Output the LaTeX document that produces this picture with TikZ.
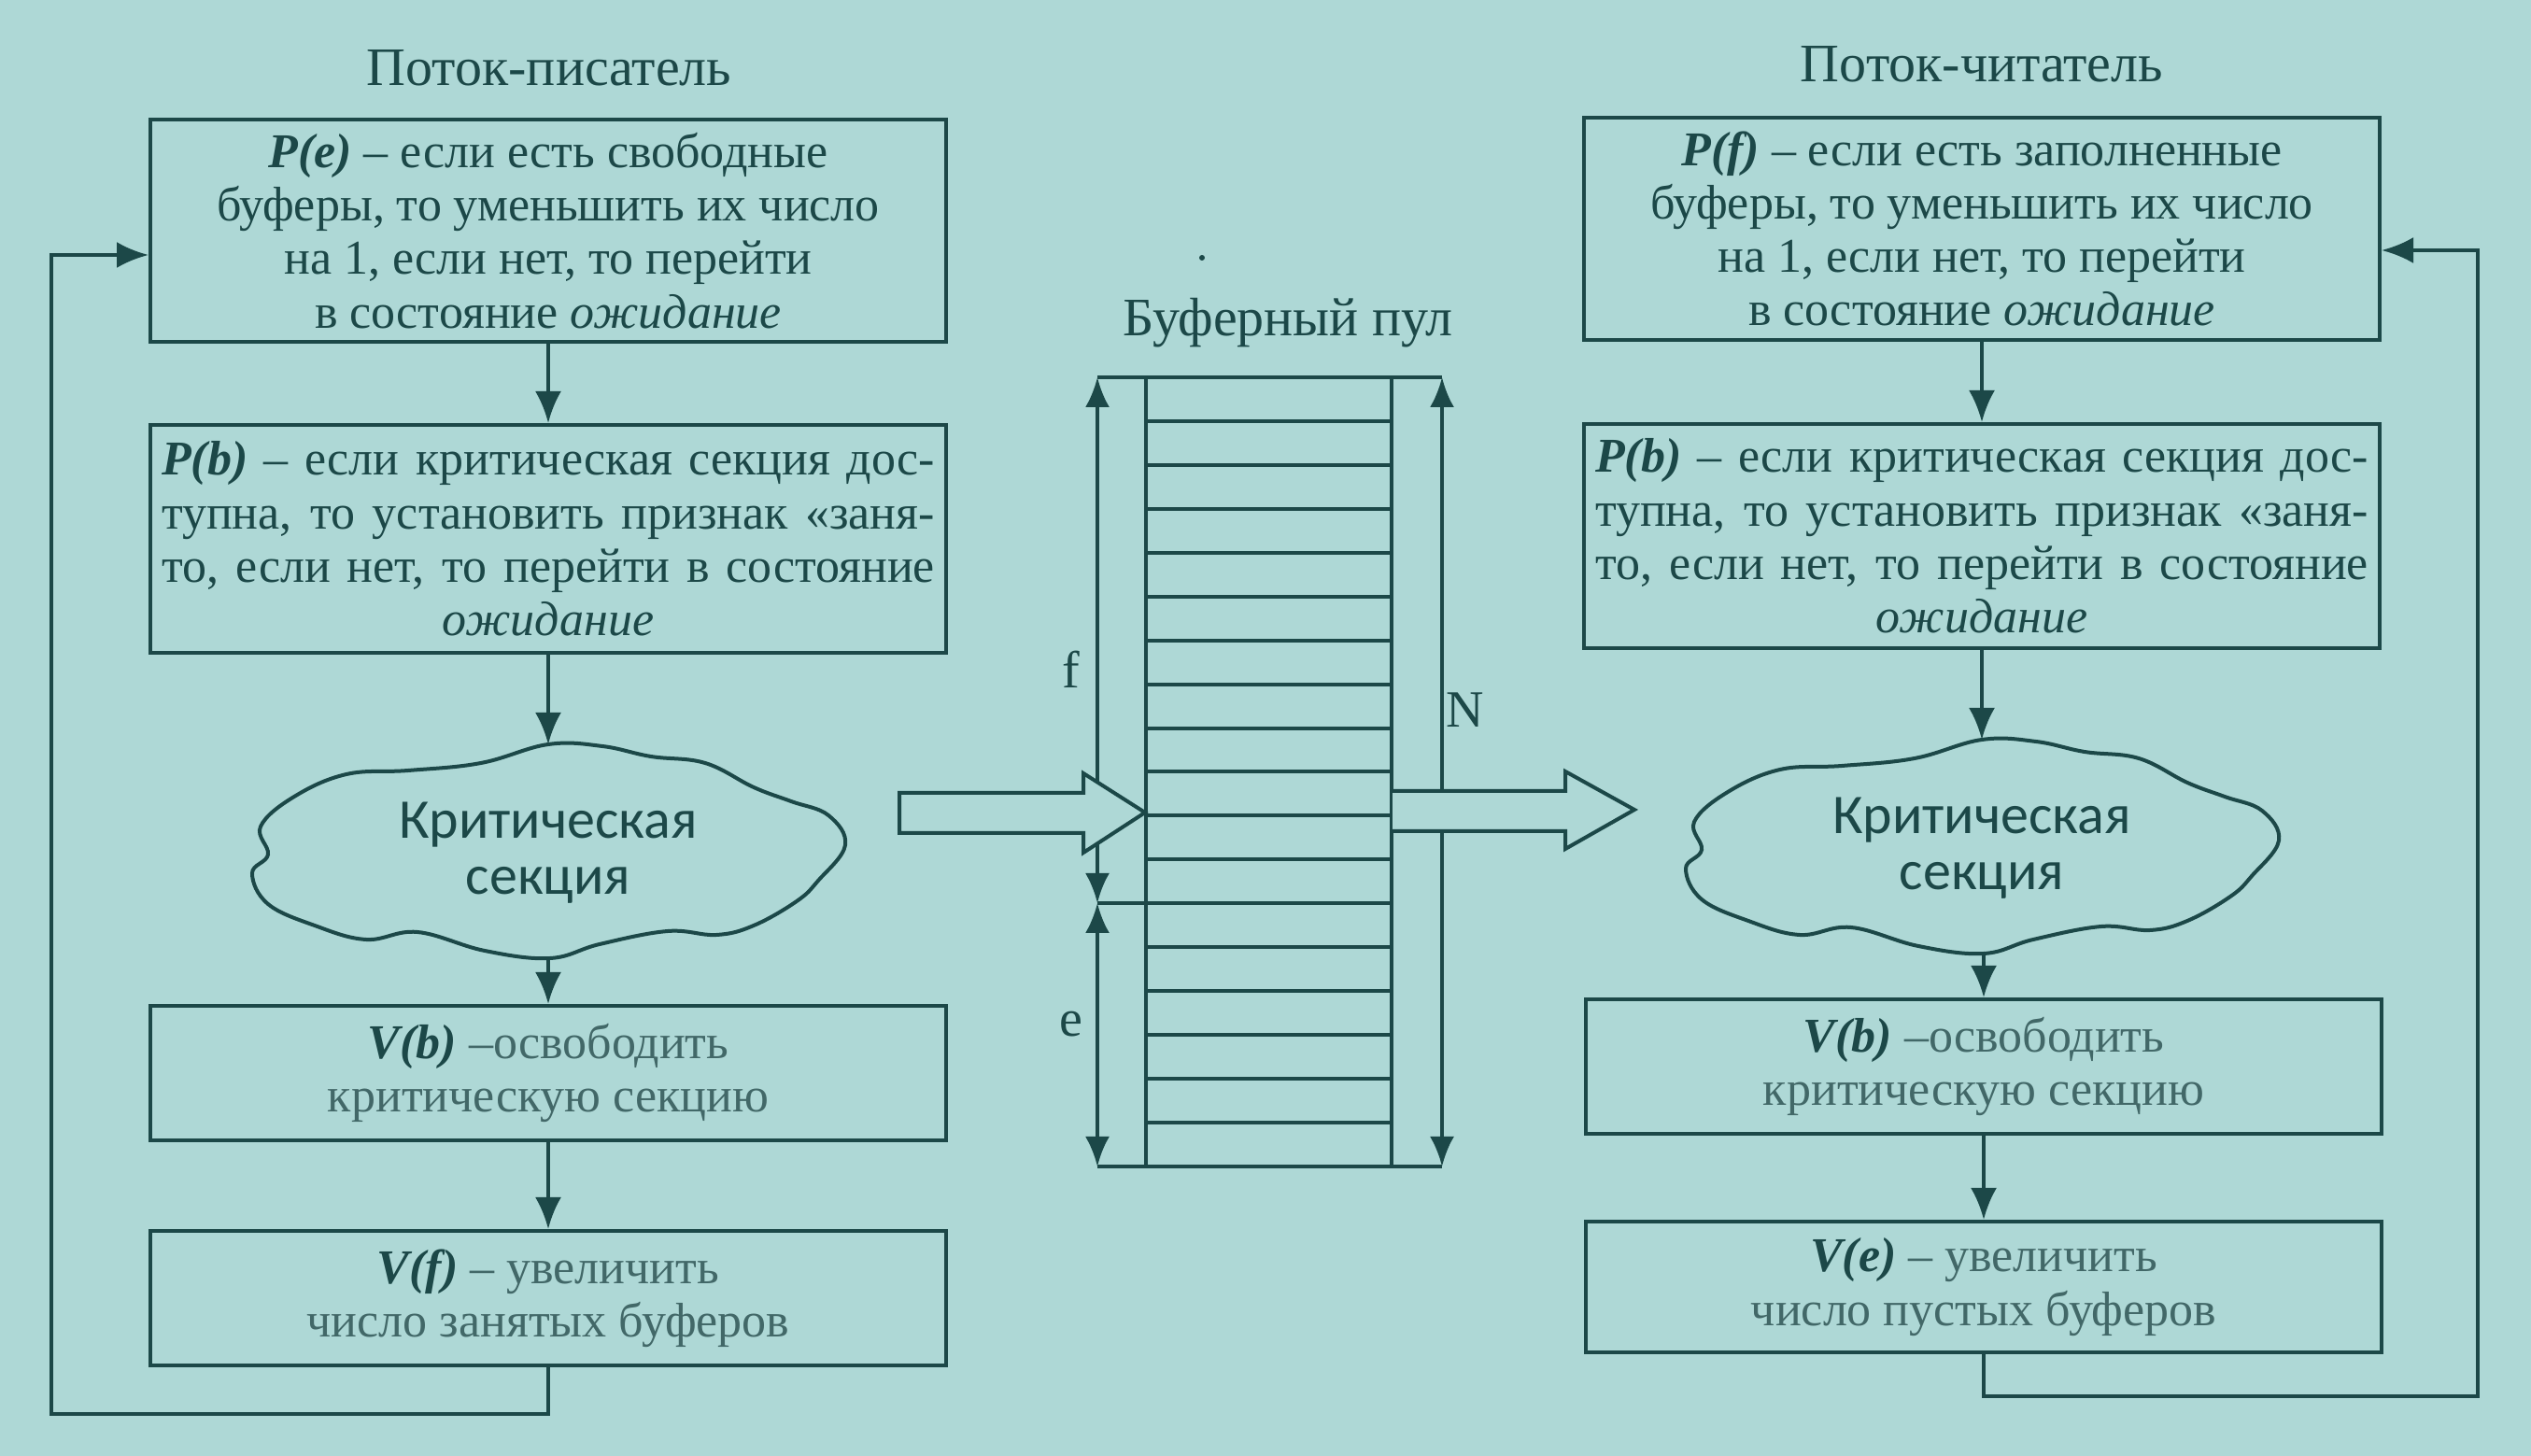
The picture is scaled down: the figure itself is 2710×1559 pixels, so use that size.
\documentclass[tikz,border=0pt]{standalone}
\usepackage{fontspec}
\setmainfont{Liberation Serif}
\newfontfamily\cloudfont{Carlito}
\usetikzlibrary{arrows.meta}
\definecolor{bgc}{RGB}{174,216,214}
\definecolor{ink}{RGB}{28,72,72}
\definecolor{inkl}{RGB}{66,104,104}
\begin{document}
\begin{tikzpicture}[x=0.25pt,y=-0.25pt,
  ln/.style={draw=ink, line width=1pt},
  box/.style={ln, rectangle, minimum width=213pt, inner sep=0pt, align=center, text=ink,
     font=\fontsize{13}{14.3}\selectfont},
  boxl/.style={box, text=inkl},
  title/.style={text=ink, font=\fontsize{14.5}{16}\selectfont},
  cloudtxt/.style={text=ink, align=center, font=\cloudfont\fontsize{15}{15}\selectfont},
  arr/.style={ln, -{Latex[length=8.5pt,width=7pt]}},
  darr/.style={ln, {Latex[length=8pt,width=6.5pt]}-{Latex[length=8pt,width=6.5pt]}},
  lbl/.style={text=ink, font=\fontsize{14}{14}\selectfont},
  hollow/.style={ln, fill=bgc, line join=miter}
]
\fill[bgc] (0,0) rectangle (2710,1559);
\useasboundingbox (0,0) rectangle (2710,1559);

% ---------- titles ----------
\node[title] (tw) at (588,73) {Поток-писатель};
\node[title] (tr) at (2122,69) {Поток-читатель};
\node[title] (tp) at (1379,346) {Буферный пул};
\fill[ink] (1287,276) circle (3);

% ---------- writer ----------
\node[box, minimum height=59.5pt] (w1) at (587,247)
 {\textbf{\textit{P(e)}} – если есть свободные\\буферы, то уменьшить их число\\на 1, если нет, то перейти\\в состояние \textit{ожидание}};
\node[box, minimum height=61pt] (w2) at (587,577)
 {\makebox[207pt][s]{\textbf{\textit{P(b)}} – если критическая секция дос-}\\
  \makebox[207pt][s]{тупна, то установить признак «заня-}\\
  \makebox[207pt][s]{то, если нет, то перейти в состояние}\\
  \textit{ожидание}};
\node[cloudtxt] (w3) at (587,913) {Критическая\\секция};
\node[boxl, minimum height=36pt] (w4) at (587,1149)
 {\textbf{\textit{\color{ink}V(b)}} –освободить\\критическую секцию};
\node[boxl, minimum height=36pt] (w5) at (587,1390)
 {\textbf{\textit{\color{ink}V(f)}} – увеличить\\число занятых буферов};

% ---------- reader ----------
\node[box, minimum height=59.5pt] (r1) at (2122,245)
 {\textbf{\textit{P(f)}} – если есть заполненные\\буферы, то уменьшить их число\\на 1, если нет, то перейти\\в состояние \textit{ожидание}};
\node[box, minimum height=60pt] (r2) at (2122,574)
 {\makebox[207pt][s]{\textbf{\textit{P(b)}} – если критическая секция дос-}\\
  \makebox[207pt][s]{тупна, то установить признак «заня-}\\
  \makebox[207pt][s]{то, если нет, то перейти в состояние}\\
  \textit{ожидание}};
\node[cloudtxt] (r3) at (2122,908) {Критическая\\секция};
\node[boxl, minimum height=36pt] (r4) at (2124,1142)
 {\textbf{\textit{\color{ink}V(b)}} –освободить\\критическую секцию};
\node[boxl, minimum height=35pt] (r5) at (2124,1378)
 {\textbf{\textit{\color{ink}V(e)}} – увеличить\\число пустых буферов};

% ---------- clouds ----------
\foreach \c in {w3,r3}{
 \begin{scope}[shift={(\c.center)}]
  \draw[ln] plot[smooth cycle, tension=0.65] coordinates {
   (0,-116) (-72,-96) (-150,-88) (-216,-84) (-272,-60) (-308,-28) (-300,2)
   (-317,22) (-300,55) (-250,78) (-195,93) (-140,85) (-68,105) (2,113)
   (55,98) (128,84) (180,88) (220,78) (266,52) (289,30) (318,-8) (300,-40)
   (260,-55) (220,-70) (168,-96) (110,-103) (58,-114)};
 \end{scope}
}
\coordinate (w3t) at (587,797);
\coordinate (w3b) at (587,1025);
\coordinate (r3t) at (2122,792);
\coordinate (r3b) at (2124,1020);

% ---------- connectors ----------
\draw[arr] (w1.south) -- (w2.north);
\draw[arr] (w2.south) -- (w3t);
\draw[arr] (w3b) -- (w4.north);
\draw[arr] (w4.south) -- (w5.north);
\coordinate (wl1) at (55,1514);
\coordinate (wl2) at (55,273);
\draw[arr] (w5.south) |- (wl1) -- (wl2) -- (w1.west |- wl2);

\draw[arr] (r1.south) -- (r2.north);
\draw[arr] (r2.south) -- (r3t);
\draw[arr] (r3b) -- (r4.north);
\draw[arr] (r4.south) -- (r5.north);
\coordinate (rl1) at (2653,1495);
\coordinate (rl2) at (2653,268);
\draw[arr] (r5.south) |- (rl1) -- (rl2) -- (r1.east |- rl2);

% ---------- buffer pool ----------
\draw[ln] (1227,404) -- (1227,1249);
\draw[ln] (1490,404) -- (1490,1249);
\draw[ln] (1175,404) -- (1544,404);
\draw[ln] (1175,1249) -- (1544,1249);
\foreach \i in {1,...,17}{
  \draw[ln] (1227,{404+\i*46.944}) -- (1490,{404+\i*46.944});
}
\draw[ln] (1175,967) -- (1227,967);
\coordinate (ft) at (1175,404);
\coordinate (fm) at (1175,967);
\coordinate (eb) at (1175,1249);
\coordinate (nt) at (1544,404);
\coordinate (nb) at (1544,1249);
\draw[darr] (fm) -- (ft);
\draw[darr] (fm) -- (eb);
\draw[darr] (nt) -- (nb);
\node[lbl] (lf) at (1147,717) {f};
\node[lbl] (le) at (1147,1097) {e};
\node[lbl] (lN) at (1569,760) {N};

% ---------- big hollow arrows ----------
\draw[hollow] (963,849) -- (1160,849) -- (1160,828) -- (1226,870) -- (1160,913)
  -- (1160,892) -- (963,892) -- cycle;
\draw[hollow] (1491,847) -- (1676,847) -- (1676,826) -- (1750,867) -- (1676,909)
  -- (1676,890) -- (1491,890);
\end{tikzpicture}
\end{document}
